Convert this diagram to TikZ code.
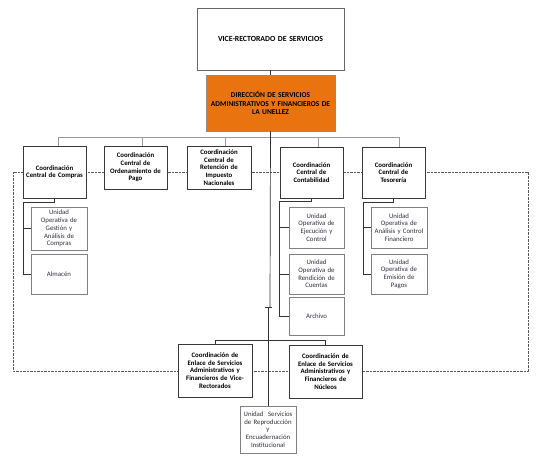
\documentclass[tikz,border=0pt]{standalone}
\usepackage{fontspec}
\setmainfont{Carlito}
\definecolor{orangebox}{HTML}{E8730F}
\definecolor{subtext}{HTML}{303040}
\begin{document}
\begin{tikzpicture}[x=1pt,y=-1pt,
  every node/.style={font=\fontsize{6.8}{7.7}\selectfont, inner sep=0pt, align=center},
  bx/.style 2 args={draw, fill=white, rectangle, minimum width=#1pt, minimum height=#2pt, text width=#1pt},
  coord/.style 2 args={bx={#1}{#2}, draw=black!78, line width=0.8pt, font=\fontsize{6.8}{7.7}\selectfont\bfseries},
  unit/.style 2 args={bx={#1}{#2}, draw=black!50, line width=0.8pt, text=subtext},
  topbox/.style 2 args={bx={#1}{#2}, draw=black!60, line width=0.8pt, font=\fontsize{7.8}{8.5}\selectfont\bfseries},
  dirbox/.style 2 args={bx={#1}{#2}, draw=black!45, fill=orangebox, line width=0.8pt, font=\fontsize{7.4}{8.4}\selectfont\bfseries},
  frame/.style={draw=black!65, line width=1pt, dash pattern=on 0.9pt off 0.5pt},
  bus/.style={draw=black!40, line width=1pt},
  link/.style={draw=black!80, line width=0.7pt}
]
\useasboundingbox (0,0) rectangle (540,460);

% dotted frame
\draw[frame] (13,172) rectangle (528,371);

% coordinates
\coordinate (bL) at (58,137);
\coordinate (bR) at (399,137);
\coordinate (d2) at (142,137);
\coordinate (d3) at (225,137);
\coordinate (d5) at (318,137);
\coordinate (j1) at (270,307);
\coordinate (j2) at (268,307);
\coordinate (t1) at (265,307);
\coordinate (t2) at (272,307);
\coordinate (c1) at (23,202);
\coordinate (c2) at (279,201);
\coordinate (c3) at (363,202);

% nodes
\node[topbox={147}{62}] (vice) at (270.5,39) {VICE-RECTORADO DE SERVICIOS};
\node[dirbox={129}{56}] (dir) at (270.5,103) {DIRECCIÓN DE SERVICIOS\\ADMINISTRATIVOS Y FINANCIEROS DE\\LA UNELLEZ};

\node[coord={63}{52}] (compras) at (54.5,172) {Coordinación\\Central de Compras};
\node[coord={63}{43}] (orden) at (135.5,167.5) {Coordinación\\Central de\\Ordenamiento de\\Pago};
\node[coord={64}{43}] (reten) at (219,167.5) {Coordinación\\Central de\\Retención de\\Impuesto\\Nacionales};
\node[coord={63}{51}] (conta) at (311.5,172.5) {Coordinación\\Central de\\Contabilidad};
\node[coord={63}{51}] (teso) at (393.5,172.5) {Coordinación\\Central de\\Tesorería};

\node[unit={56}{43}] (uogac) at (59,228.5) {Unidad\\Operativa de\\Gestión y\\Análisis de\\Compras};
\node[unit={56}{40}] (almacen) at (59,274) {Almacén};
\node[unit={55}{41}] (ejec) at (316.5,227.5) {Unidad\\Operativa de\\Ejecución y\\Control};
\node[unit={55}{40}] (rend) at (316.5,274) {Unidad\\Operativa de\\Rendición de\\Cuentas};
\node[unit={55}{38}] (archivo) at (316.5,316) {Archivo};
\node[unit={56}{41}] (analisis) at (399,227.5) {Unidad\\Operativa de\\Análisis y Control\\Financiero};
\node[unit={56}{40}] (emision) at (399,274) {Unidad\\Operativa de\\Emisión de\\Pagos};

\node[coord={74}{53}] (enlaceVR) at (215,370.5) {Coordinación de\\Enlace de Servicios\\Administrativos y\\Financieros de Vice-\\Rectorados};
\node[coord={73}{53}] (enlaceNuc) at (325.5,371.5) {Coordinación de\\Enlace de Servicios\\Administrativos y\\Financieros de\\Núcleos};
\node[unit={56}{47}] (servicios) at (268,429.5) {Unidad\ \ Servicios\\de Reproducción\\y\\Encuadernación\\Institucional};

% connectors
\draw[link] (vice.south) -- (dir.north);
\draw[bus] (bL) -- (bR);
\draw[bus] (bL) -- (bL |- compras.north);
\draw[bus] (d2) -- (d2 |- orden.north);
\draw[bus] (d3) -- (d3 |- reten.north);
\draw[bus] (d5) -- (d5 |- conta.north);
\draw[bus] (bR) -- (bR |- teso.north);

\draw[link] (dir.south) -- (j1);
\draw[link] (t1) -- (t2);
\draw[link] (j2) -- (servicios.north);

\draw[link] (compras.south) |- (c1);
\draw[link] (c1) |- (uogac.west);
\draw[link] (c1) |- (almacen.west);

\draw[link] (conta.south) |- (c2);
\draw[link] (c2) |- (ejec.west);
\draw[link] (c2) |- (rend.west);
\draw[link] (c2) |- (archivo.west);

\draw[link] (teso.south) |- (c3);
\draw[link] (c3) |- (analisis.west);
\draw[link] (c3) |- (emision.west);

\draw[link] (enlaceVR.north) -- ++(0,-3) -| (enlaceNuc.north);
\end{tikzpicture}
\end{document}
